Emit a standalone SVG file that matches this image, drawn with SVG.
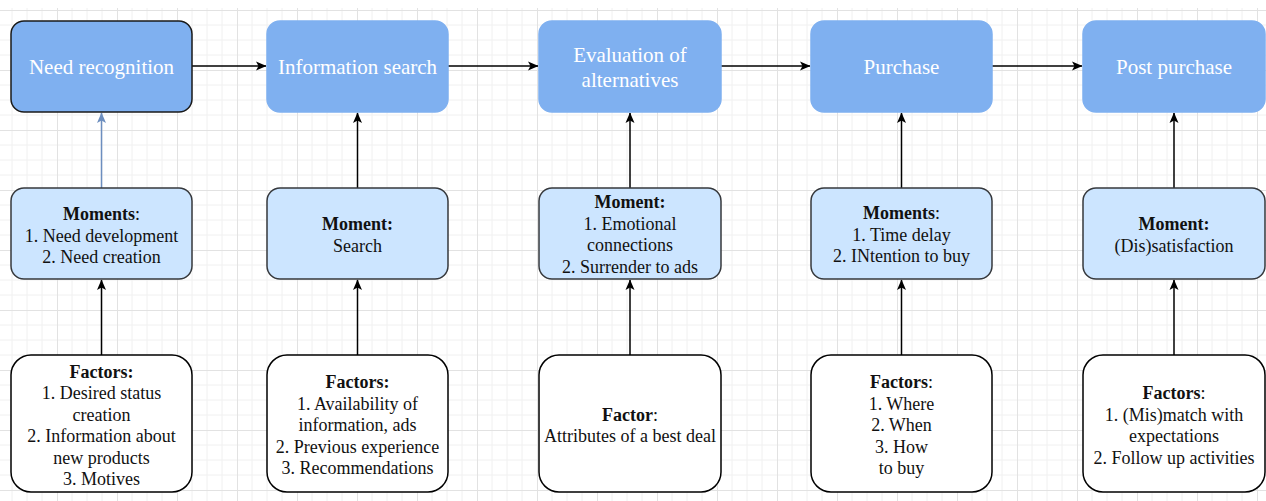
<svg xmlns="http://www.w3.org/2000/svg" width="1266" height="501" viewBox="0 0 1266 501">
<style>
.top{fill:#7fb0f0;stroke:#7fb0f0;stroke-width:1.5}
.mid{fill:#cce5ff;stroke:#36393d;stroke-width:1.5}
.bot{fill:#ffffff;stroke:#000000;stroke-width:1.5}
.tt{font-family:"Liberation Serif","Times New Roman",serif;font-size:21px;fill:#ffffff;text-anchor:middle}
.t{font-family:"Liberation Serif","Times New Roman",serif;font-size:18px;fill:#111111;text-anchor:middle}
.b{font-weight:bold}
.c{fill:none;stroke:#000000;stroke-width:1.5}
.cb{fill:none;stroke:#6c8ebf;stroke-width:1.5}
</style>
<defs>
<pattern id="grid" x="57" y="10" width="60" height="60" patternUnits="userSpaceOnUse">
<path d="M15 0V60M30 0V60M45 0V60M0 15H60M0 30H60M0 45H60" stroke="#f0f0f0" stroke-width="1" fill="none"/>
<path d="M0.5 0V60M0 0.5H60" stroke="#e2e2e2" stroke-width="1" fill="none"/>
</pattern>
<marker id="ah" markerWidth="11" markerHeight="10" refX="10" refY="5" orient="auto" markerUnits="userSpaceOnUse">
<path d="M0 0.5L10.5 5L0 9.5L2.5 5Z" fill="#000000"/>
</marker>
<marker id="ahb" markerWidth="11" markerHeight="10" refX="10" refY="5" orient="auto" markerUnits="userSpaceOnUse">
<path d="M0 0.5L10.5 5L0 9.5L2.5 5Z" fill="#6c8ebf"/>
</marker>
</defs>
<rect width="1266" height="501" fill="#ffffff"/>
<rect x="0" y="8" width="1266" height="493" fill="url(#grid)"/>

<g id="connectors">
<path class="c" d="M192 66H266" marker-end="url(#ah)"/>
<path class="c" d="M448 66H538" marker-end="url(#ah)"/>
<path class="c" d="M721 66H810" marker-end="url(#ah)"/>
<path class="c" d="M992 66H1082" marker-end="url(#ah)"/>
<path class="cb" d="M101.5 188V113" marker-end="url(#ahb)"/>
<path class="c" d="M357.5 188V113" marker-end="url(#ah)"/>
<path class="c" d="M630 188V113" marker-end="url(#ah)"/>
<path class="c" d="M901.5 188V113" marker-end="url(#ah)"/>
<path class="c" d="M1174 188V113" marker-end="url(#ah)"/>
<path class="c" d="M101.5 355V280" marker-end="url(#ah)"/>
<path class="c" d="M357.5 355V280" marker-end="url(#ah)"/>
<path class="c" d="M630 355V280" marker-end="url(#ah)"/>
<path class="c" d="M901.5 355V280" marker-end="url(#ah)"/>
<path class="c" d="M1174 355V280" marker-end="url(#ah)"/>
</g>

<g id="need-recognition">
<rect class="top" x="11" y="21" width="181" height="91" rx="13" style="stroke:#1a1a1a"/>
<text class="tt" x="101.5" y="73.5">Need recognition</text>
</g>
<g id="information-search">
<rect class="top" x="267" y="21" width="181" height="91" rx="13"/>
<text class="tt" x="357.5" y="73.5">Information search</text>
</g>
<g id="evaluation">
<rect class="top" x="539" y="21" width="182" height="91" rx="13"/>
<text class="tt" x="630" y="61.5">Evaluation of</text>
<text class="tt" x="630" y="86.5">alternatives</text>
</g>
<g id="purchase">
<rect class="top" x="811" y="21" width="181" height="91" rx="13"/>
<text class="tt" x="901.5" y="73.5">Purchase</text>
</g>
<g id="post-purchase">
<rect class="top" x="1083" y="21" width="182" height="91" rx="13"/>
<text class="tt" x="1174" y="73.5">Post purchase</text>
</g>

<g id="moments-1">
<rect class="mid" x="11" y="188" width="181" height="91" rx="13"/>
<text class="t" x="101.5" y="220"><tspan class="b">Moments</tspan>:</text>
<text class="t" x="101.5" y="241.5">1. Need development</text>
<text class="t" x="101.5" y="263">2. Need creation</text>
</g>
<g id="moment-2">
<rect class="mid" x="267" y="188" width="181" height="91" rx="13"/>
<text class="t b" x="357.5" y="230">Moment:</text>
<text class="t" x="357.5" y="251.5">Search</text>
</g>
<g id="moment-3">
<rect class="mid" x="539" y="188" width="182" height="91" rx="13"/>
<text class="t b" x="630" y="208">Moment:</text>
<text class="t" x="630" y="229.5">1. Emotional</text>
<text class="t" x="630" y="251">connections</text>
<text class="t" x="630" y="272.5">2. Surrender to ads</text>
</g>
<g id="moments-4">
<rect class="mid" x="811" y="188" width="181" height="91" rx="13"/>
<text class="t" x="901.5" y="219"><tspan class="b">Moments</tspan>:</text>
<text class="t" x="901.5" y="240.5">1. Time delay</text>
<text class="t" x="901.5" y="262">2. INtention to buy</text>
</g>
<g id="moment-5">
<rect class="mid" x="1083" y="188" width="182" height="91" rx="13"/>
<text class="t b" x="1174" y="230">Moment:</text>
<text class="t" x="1174" y="251.5">(Dis)satisfaction</text>
</g>

<g id="factors-1">
<rect class="bot" x="11" y="355" width="181" height="137" rx="20"/>
<text class="t b" x="101.5" y="377.5">Factors:</text>
<text class="t" x="101.5" y="399">1. Desired status</text>
<text class="t" x="101.5" y="420.5">creation</text>
<text class="t" x="101.5" y="442">2. Information about</text>
<text class="t" x="101.5" y="463.5">new products</text>
<text class="t" x="101.5" y="485">3. Motives</text>
</g>
<g id="factors-2">
<rect class="bot" x="267" y="355" width="181" height="137" rx="20"/>
<text class="t b" x="357.5" y="388">Factors:</text>
<text class="t" x="357.5" y="409.5">1. Availability of</text>
<text class="t" x="357.5" y="431">information, ads</text>
<text class="t" x="357.5" y="452.5">2. Previous experience</text>
<text class="t" x="357.5" y="474">3. Recommendations</text>
</g>
<g id="factor-3">
<rect class="bot" x="539" y="355" width="182" height="137" rx="20"/>
<text class="t" x="630" y="420.5"><tspan class="b">Factor</tspan>:</text>
<text class="t" x="630" y="442">Attributes of a best deal</text>
</g>
<g id="factors-4">
<rect class="bot" x="811" y="355" width="181" height="137" rx="20"/>
<text class="t" x="901.5" y="388"><tspan class="b">Factors</tspan>:</text>
<text class="t" x="901.5" y="409.5">1. Where</text>
<text class="t" x="901.5" y="431">2. When</text>
<text class="t" x="901.5" y="452.5">3. How</text>
<text class="t" x="901.5" y="474">to buy</text>
</g>
<g id="factors-5">
<rect class="bot" x="1083" y="355" width="182" height="137" rx="20"/>
<text class="t" x="1174" y="399"><tspan class="b">Factors</tspan>:</text>
<text class="t" x="1174" y="420.5">1. (Mis)match with</text>
<text class="t" x="1174" y="442">expectations</text>
<text class="t" x="1174" y="463.5">2. Follow up activities</text>
</g>
</svg>
